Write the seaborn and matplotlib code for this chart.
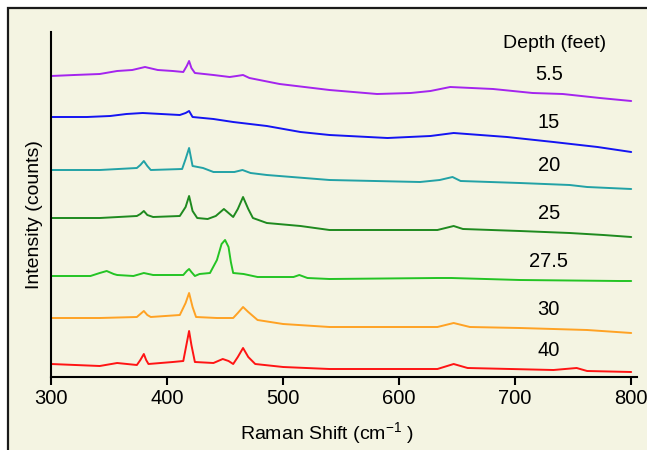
import matplotlib
matplotlib.use("Agg")
import matplotlib.pyplot as plt
from matplotlib.patches import Rectangle
import numpy as np
import pandas as pd
import seaborn as sns

# depth (feet) and the Raman spectra (shift in cm-1, intensity in arb. units)
depths = ["5.5", "15", "20", "25", "27.5", "30", "40"]

shift_55 = [300, 320, 342, 357, 370, 381, 392, 405, 414, 417, 419, 421, 424, 440, 454, 460, 465.5, 471, 497,
            540, 581, 610, 627, 644, 681, 715, 741, 773, 800]
int_55 = [301, 302, 303, 306, 307, 310, 307, 306, 305, 311, 316, 309, 304, 302, 300, 301, 302, 299, 293,
          287, 283, 284, 286, 290, 288, 284, 283, 279, 276]

shift_15 = [300, 331, 351, 365, 379, 395, 411, 416, 419, 422, 440, 457, 486, 515, 540, 590, 627, 647, 693,
            733, 771, 800]
int_15 = [260, 260, 261, 263, 264, 263, 262, 264, 266, 260, 258, 255, 251, 245, 242, 239, 241, 244, 240,
          235, 230, 225]

shift_20 = [300, 342, 374, 377, 380, 383, 386, 413, 416, 419, 422, 431, 440, 458, 465, 472, 486, 540, 618,
            635, 646, 653, 704, 747, 762, 800]
int_20 = [207, 207, 209, 212, 216, 211, 207, 208, 218, 229, 211, 209, 205, 205, 207, 204, 202, 197, 195,
          197, 200, 196, 194, 192, 190, 188]

shift_25 = [300, 342, 374, 377, 380, 383, 388, 411, 416, 419, 422, 426, 435, 442, 449, 454, 457, 461, 465.5,
            470, 474, 486, 515, 540, 633, 647, 655, 704, 747, 776, 800]
int_25 = [159, 159, 161, 163, 166, 162, 160, 161, 170, 181, 166, 159, 158, 161, 168, 163, 160, 168, 180,
          168, 159, 154, 151, 147, 147, 151, 148, 146, 144, 142, 140]

shift_275 = [300, 334, 342, 348, 354, 357, 371, 380, 388, 414, 417, 419, 421, 424, 428, 437, 443, 447, 450,
             453, 455, 457, 466, 478, 509, 514, 521, 540, 633, 645, 704, 790, 800]
int_275 = [101, 101, 104, 106, 103, 102, 101, 104, 102, 102, 106, 108, 105, 101, 103, 104, 117, 133, 137,
           130, 115, 104, 103, 100, 100, 102, 99, 98, 99, 99, 97, 96, 96]

shift_30 = [300, 342, 374, 377, 380, 383, 386, 411, 416, 419, 422, 425, 443, 457, 461, 465.5, 470, 478, 500,
            540, 633, 647, 661, 704, 762, 800]
int_30 = [59, 59, 60, 63, 66, 62, 60, 62, 74, 84, 70, 60, 59, 59, 64, 70, 65, 57, 53,
          50, 50, 54, 50, 49, 47, 44]

shift_40 = [300, 342, 357, 374, 377, 380, 382, 384, 405, 414, 417, 419, 421, 424, 440, 448, 453, 457, 461,
            465.5, 470, 476, 500, 540, 633, 647, 659, 733, 753, 762, 800]
int_40 = [13, 11, 14, 12, 17, 23, 17, 13, 15, 16, 34, 46, 32, 15, 14, 18, 16, 13, 20,
          29, 20, 13, 10, 8, 8, 13, 9, 7, 9, 6, 5]

shifts = [shift_55, shift_15, shift_20, shift_25, shift_275, shift_30, shift_40]
intensities = [int_55, int_15, int_20, int_25, int_275, int_30, int_40]
colors = ["#a424ee", "#1414f2", "#22a2a6", "#1f8a1f", "#24c424", "#ffa224", "#ff1414"]

frames = [pd.DataFrame({"shift": s, "intensity": v, "depth": d})
          for d, s, v in zip(depths, shifts, intensities)]
spectra = pd.concat(frames, ignore_index=True)

sns.set_style("white")
plt.rcParams["font.family"] = ["Liberation Sans", "DejaVu Sans"]
plt.rcParams["mathtext.fontset"] = "custom"
plt.rcParams["mathtext.rm"] = "Liberation Sans"
plt.rcParams["mathtext.default"] = "regular"
plt.rcParams["text.color"] = "black"
plt.rcParams["axes.labelcolor"] = "black"
plt.rcParams["xtick.color"] = "black"

fig = plt.figure(figsize=(6.47, 4.5), dpi=100)
fig.patch.set_facecolor("white")
# beige panel with a dark frame on the top and left
fig.add_artist(Rectangle((8 / 647, -0.1), 1.2, (450 - 8) / 450 + 0.1, transform=fig.transFigure,
                         facecolor="#f4f4e2", edgecolor="#1a1a1a", linewidth=1.6, zorder=0))

ax = fig.add_axes([51 / 647, 73 / 450, 586 / 647, 345 / 450])
ax.set_facecolor("none")

sns.lineplot(data=spectra, x="shift", y="intensity", hue="depth", hue_order=depths,
             palette=dict(zip(depths, colors)), estimator=None, sort=False,
             linewidth=1.4, legend=False, ax=ax)

ax.set_xlim(300, 805)
ax.set_ylim(0, 345)
ax.set_xticks([300, 400, 500, 600, 700, 800])
ax.set_yticks([])
ax.tick_params(axis="x", direction="out", length=6, width=1.5, labelsize=14.5, pad=3, bottom=True)
for side in ["top", "right"]:
    ax.spines[side].set_visible(False)
for side in ["left", "bottom"]:
    ax.spines[side].set_linewidth(1.5)
    ax.spines[side].set_color("black")

ax.set_xlabel(r"Raman Shift (cm$^{-1}$ )", fontsize=14)
ax.set_ylabel("Intensity (counts)", fontsize=14)
ax.xaxis.set_label_coords(0.471, -0.125)
ax.yaxis.set_label_coords(-0.014, 0.47)

# depth labels sit just above each trace near the right end
ax.text(734, 333, "Depth (feet)", ha="center", va="center", fontsize=14)
for d, s, v in zip(depths, shifts, intensities):
    ax.text(729, np.interp(730, s, v) + 19, d, ha="center", va="center", fontsize=14.5)

fig.savefig("out.png", dpi=100, facecolor=fig.get_facecolor())
